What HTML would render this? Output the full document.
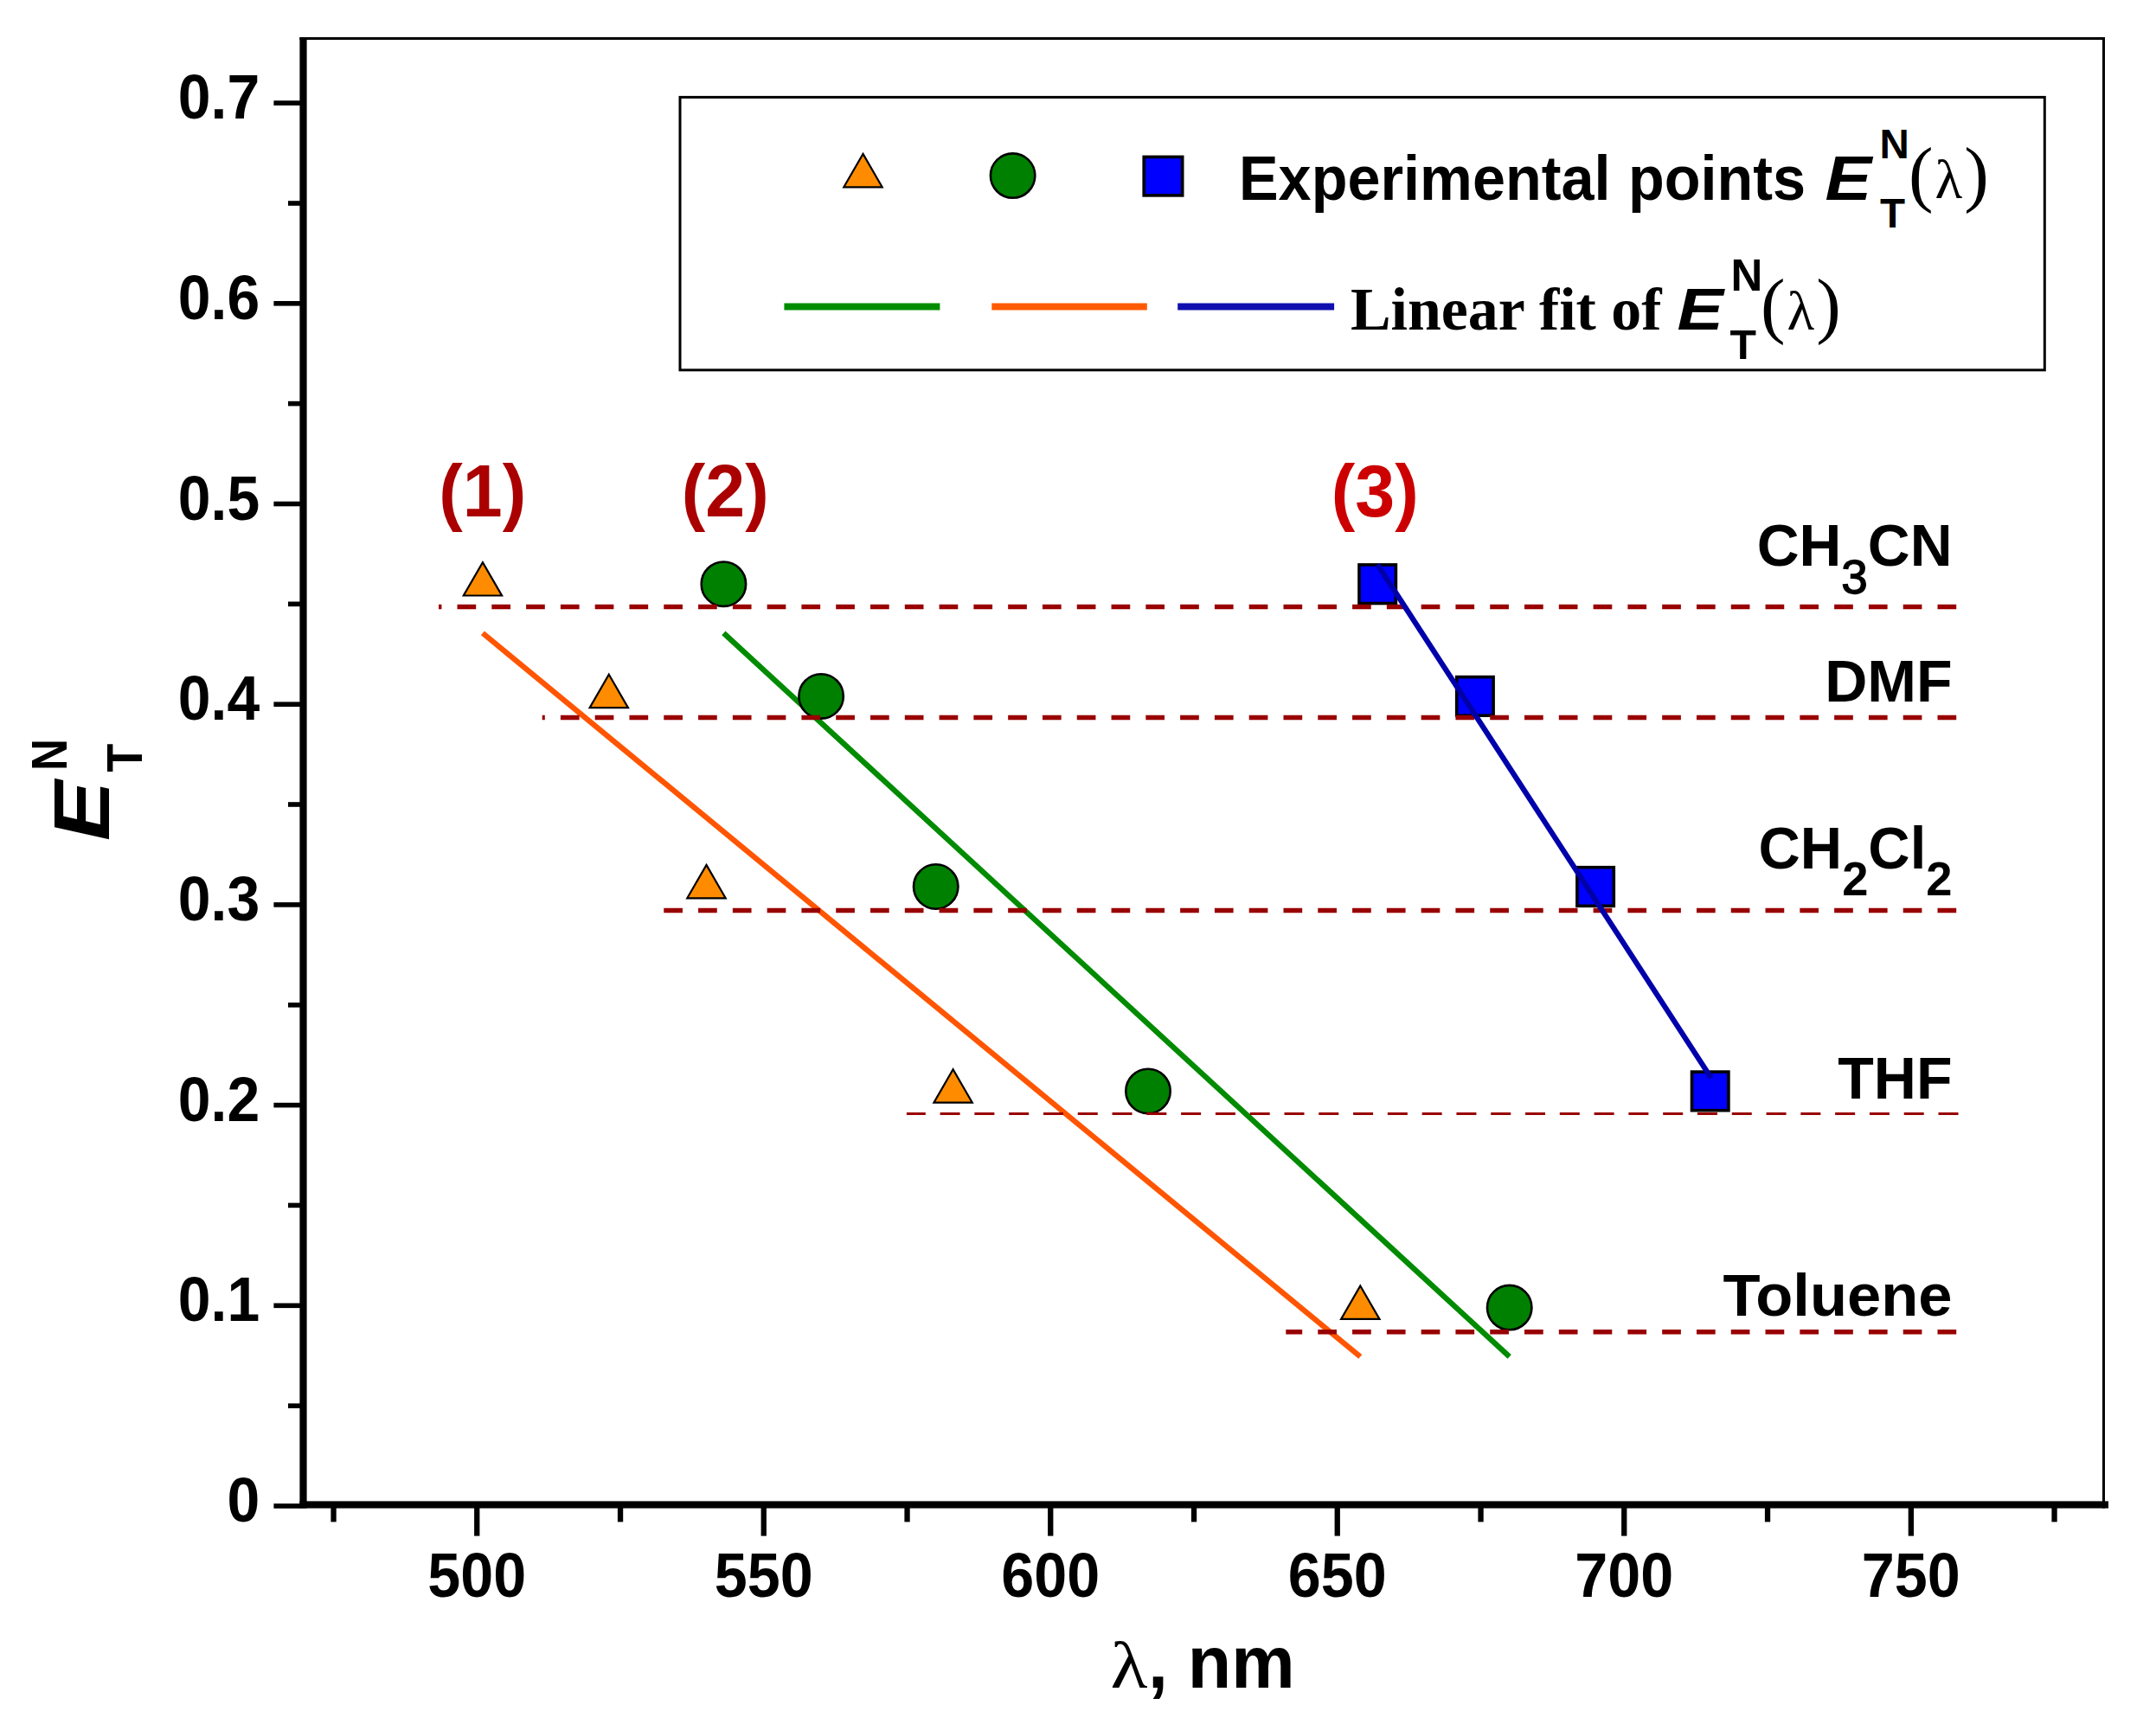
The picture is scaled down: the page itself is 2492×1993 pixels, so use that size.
<!DOCTYPE html>
<html lang="en"><head><meta charset="utf-8"><title>E_T^N vs lambda</title>
<style>
html,body{margin:0;padding:0;background:#fff}
svg{display:block}
.sb{font-family:"Liberation Sans",sans-serif;font-weight:bold}
.sbi{font-family:"Liberation Sans",sans-serif;font-weight:bold;font-style:italic}
.tb{font-family:"Liberation Serif",serif;font-weight:bold}
.tr{font-family:"Liberation Serif",serif;font-weight:normal}
</style></head>
<body>
<svg width="2492" height="1993" viewBox="0 0 2492 1993">
<rect x="0" y="0" width="2492" height="1993" fill="#fff"/>
<g fill="#000">
<rect x="346.4" y="43.0" width="8.2" height="1700.6"/>
<rect x="346.4" y="1735.4" width="2090.6" height="8.2"/>
<rect x="346.4" y="43.0" width="2086.6" height="3.0"/>
<rect x="2430.0" y="43.0" width="3.0" height="1700.6"/>
<rect x="316.4" y="1738.2" width="31.0" height="5.6"/>
<rect x="333.0" y="1622.4" width="14.4" height="5.6"/>
<rect x="316.4" y="1506.5" width="31.0" height="5.6"/>
<rect x="333.0" y="1390.6" width="14.4" height="5.6"/>
<rect x="316.4" y="1274.8" width="31.0" height="5.6"/>
<rect x="333.0" y="1159.0" width="14.4" height="5.6"/>
<rect x="316.4" y="1043.1" width="31.0" height="5.6"/>
<rect x="333.0" y="927.2" width="14.4" height="5.6"/>
<rect x="316.4" y="811.4" width="31.0" height="5.6"/>
<rect x="333.0" y="695.5" width="14.4" height="5.6"/>
<rect x="316.4" y="579.7" width="31.0" height="5.6"/>
<rect x="333.0" y="463.8" width="14.4" height="5.6"/>
<rect x="316.4" y="348.0" width="31.0" height="5.6"/>
<rect x="333.0" y="232.2" width="14.4" height="5.6"/>
<rect x="316.4" y="116.3" width="31.0" height="5.6"/>
<rect x="382.4" y="1742.6" width="6.3" height="16.8"/>
<rect x="548.1" y="1742.6" width="6.3" height="33.0"/>
<rect x="713.9" y="1742.6" width="6.3" height="16.8"/>
<rect x="879.6" y="1742.6" width="6.3" height="33.0"/>
<rect x="1045.4" y="1742.6" width="6.3" height="16.8"/>
<rect x="1211.1" y="1742.6" width="6.3" height="33.0"/>
<rect x="1376.9" y="1742.6" width="6.3" height="16.8"/>
<rect x="1542.6" y="1742.6" width="6.3" height="33.0"/>
<rect x="1708.4" y="1742.6" width="6.3" height="16.8"/>
<rect x="1874.1" y="1742.6" width="6.3" height="33.0"/>
<rect x="2039.9" y="1742.6" width="6.3" height="16.8"/>
<rect x="2205.7" y="1742.6" width="6.3" height="33.0"/>
<rect x="2371.4" y="1742.6" width="6.3" height="16.8"/>
</g>
<text class="sb" transform="translate(300.2 1759.0) scale(0.95 1)" font-size="71.5" text-anchor="end" fill="#000">0</text>
<text class="sb" transform="translate(300.2 1527.3) scale(0.95 1)" font-size="71.5" text-anchor="end" fill="#000">0.1</text>
<text class="sb" transform="translate(300.2 1295.6) scale(0.95 1)" font-size="71.5" text-anchor="end" fill="#000">0.2</text>
<text class="sb" transform="translate(300.2 1063.9) scale(0.95 1)" font-size="71.5" text-anchor="end" fill="#000">0.3</text>
<text class="sb" transform="translate(300.2 832.2) scale(0.95 1)" font-size="71.5" text-anchor="end" fill="#000">0.4</text>
<text class="sb" transform="translate(300.2 600.5) scale(0.95 1)" font-size="71.5" text-anchor="end" fill="#000">0.5</text>
<text class="sb" transform="translate(300.2 368.8) scale(0.95 1)" font-size="71.5" text-anchor="end" fill="#000">0.6</text>
<text class="sb" transform="translate(300.2 137.1) scale(0.95 1)" font-size="71.5" text-anchor="end" fill="#000">0.7</text>
<text class="sb" transform="translate(551.3 1846) scale(0.955 1)" font-size="71.5" text-anchor="middle" fill="#000">500</text>
<text class="sb" transform="translate(882.8 1846) scale(0.955 1)" font-size="71.5" text-anchor="middle" fill="#000">550</text>
<text class="sb" transform="translate(1214.3 1846) scale(0.955 1)" font-size="71.5" text-anchor="middle" fill="#000">600</text>
<text class="sb" transform="translate(1545.8 1846) scale(0.955 1)" font-size="71.5" text-anchor="middle" fill="#000">650</text>
<text class="sb" transform="translate(1877.3 1846) scale(0.955 1)" font-size="71.5" text-anchor="middle" fill="#000">700</text>
<text class="sb" transform="translate(2208.8 1846) scale(0.955 1)" font-size="71.5" text-anchor="middle" fill="#000">750</text>
<text class="tr" transform="translate(1283.5 1950.5) scale(1.165 1)" font-size="76" text-anchor="start" fill="#000">λ</text>
<text class="sb" transform="translate(1327 1950.5) scale(0.96 1)" font-size="86" text-anchor="start" fill="#000">, nm</text>
<g transform="translate(126.2,972) rotate(-90)" fill="#000"><text class="sbi" transform="scale(1.15 1)" x="0" y="0" font-size="90.7">E</text><text class="sb" transform="translate(81 -49.2) scale(0.89 1)" font-size="57.3">N</text><text class="sb" transform="translate(79.5 38.1) scale(0.94 1)" font-size="57.3">T</text></g>
<line x1="557.9" y1="731.9" x2="1572.3" y2="1568.4" stroke="#FF5500" stroke-width="6.3"/>
<line x1="836.4" y1="731.9" x2="1744.7" y2="1568.4" stroke="#008B00" stroke-width="6.3"/>
<rect x="1571.0" y="652.9" width="42.4" height="44.6" fill="#0000FF" stroke="#000" stroke-width="3.6"/>
<rect x="1683.7" y="782.6" width="42.4" height="44.6" fill="#0000FF" stroke="#000" stroke-width="3.6"/>
<rect x="1822.9" y="1002.7" width="42.4" height="44.6" fill="#0000FF" stroke="#000" stroke-width="3.6"/>
<rect x="1955.5" y="1239.1" width="42.4" height="44.6" fill="#0000FF" stroke="#000" stroke-width="3.6"/>
<circle cx="836.4" cy="675.2" r="25.7" fill="#008000" stroke="#000" stroke-width="2.6"/>
<circle cx="949.1" cy="804.9" r="25.7" fill="#008000" stroke="#000" stroke-width="2.6"/>
<circle cx="1081.7" cy="1025.0" r="25.7" fill="#008000" stroke="#000" stroke-width="2.6"/>
<circle cx="1327.0" cy="1261.4" r="25.7" fill="#008000" stroke="#000" stroke-width="2.6"/>
<circle cx="1744.7" cy="1511.6" r="25.7" fill="#008000" stroke="#000" stroke-width="2.6"/>
<polygon points="557.9,650.1 580.1,688.5 535.8,688.5" fill="#FF8C00" stroke="#000" stroke-width="2.2" stroke-linejoin="miter"/>
<polygon points="703.8,779.8 726.0,818.2 681.6,818.2" fill="#FF8C00" stroke="#000" stroke-width="2.2" stroke-linejoin="miter"/>
<polygon points="816.5,999.9 838.7,1038.3 794.3,1038.3" fill="#FF8C00" stroke="#000" stroke-width="2.2" stroke-linejoin="miter"/>
<polygon points="1101.6,1236.3 1123.8,1274.7 1079.4,1274.7" fill="#FF8C00" stroke="#000" stroke-width="2.2" stroke-linejoin="miter"/>
<polygon points="1572.3,1486.5 1594.5,1524.9 1550.1,1524.9" fill="#FF8C00" stroke="#000" stroke-width="2.2" stroke-linejoin="miter"/>
<g stroke="#990000" fill="none" stroke-dasharray="21.7 18.09">
<line x1="2261.2" y1="701.4" x2="507.0" y2="701.4" stroke-width="5.5"/>
<line x1="2261.2" y1="829.5" x2="626.7" y2="829.5" stroke-width="5.5"/>
<line x1="2261.2" y1="1052.4" x2="765.4" y2="1052.4" stroke-width="5.5"/>
<line x1="2263.5" y1="1287.6" x2="1047.9" y2="1287.6" stroke-width="3.0" stroke-dasharray="23 16.79"/>
<line x1="2261.2" y1="1539.7" x2="1486.3" y2="1539.7" stroke-width="5.5"/>
</g>
<line x1="1592.2" y1="652.7" x2="1977.8" y2="1246.1" stroke="#0000AA" stroke-width="6.2"/>
<text class="sb" transform="translate(557.8 597) scale(0.96 1)" font-size="86" text-anchor="middle" fill="#AA0000">(1)</text>
<text class="sb" transform="translate(838.3 597) scale(0.96 1)" font-size="86" text-anchor="middle" fill="#AA0000">(2)</text>
<text class="sb" transform="translate(1589.3 597) scale(0.96 1)" font-size="86" text-anchor="middle" fill="#CC0000">(3)</text>
<text class="sb" transform="translate(2256.5 653.7) scale(0.98 1)" font-size="69" text-anchor="end" fill="#000">CH<tspan font-size="56" dy="32.5" font-weight="normal" stroke="#000" stroke-width="1.3">3</tspan><tspan dy="-32.5">CN</tspan></text>
<text class="sb" transform="translate(2256.5 810.8) scale(0.986 1)" font-size="69" text-anchor="end" fill="#000">DMF</text>
<text class="sb" transform="translate(2256.5 1003.5) scale(0.97 1)" font-size="69" text-anchor="end" fill="#000">CH<tspan font-size="56" dy="31">2</tspan><tspan dy="-31">Cl</tspan><tspan font-size="56" dy="31">2</tspan></text>
<text class="sb" transform="translate(2256.5 1270) scale(0.986 1)" font-size="69" text-anchor="end" fill="#000">THF</text>
<text class="sb" transform="translate(2256.5 1520.6) scale(1.022 1)" font-size="69" text-anchor="end" fill="#000">Toluene</text>
<rect x="786" y="112.4" width="1577.3" height="315.4" fill="#fff" stroke="#000" stroke-width="3"/>
<polygon points="997.5,177.9 1019.7,216.3 975.3,216.3" fill="#FF8C00" stroke="#000" stroke-width="2.2" stroke-linejoin="miter"/>
<circle cx="1170.6" cy="203.1" r="25.7" fill="#008000" stroke="#000" stroke-width="2.6"/>
<rect x="1322.2" y="181.4" width="44.5" height="44.5" fill="#0000FF" stroke="#000" stroke-width="3.6"/>
<line x1="906.4" y1="354.5" x2="1086.4" y2="354.5" stroke="#008C00" stroke-width="8"/>
<line x1="1146.3" y1="354.5" x2="1325.8" y2="354.5" stroke="#FF5A00" stroke-width="8"/>
<line x1="1361.2" y1="354.5" x2="1542.1" y2="354.5" stroke="#1010B0" stroke-width="8"/>
<text class="sb" transform="translate(1432 230.5) scale(0.95 1)" font-size="72" text-anchor="start" fill="#000" word-spacing="1.5">Experimental points</text>
<text class="sbi" transform="translate(2109.5 230.5) scale(1.12 1)" font-size="72" text-anchor="start" fill="#000">E</text>
<text class="sb" transform="translate(2172.5 183.2) scale(1.0 1)" font-size="47.5" text-anchor="start" fill="#000">N</text>
<text class="sb" transform="translate(2173 262.5) scale(1.0 1)" font-size="47.5" text-anchor="start" fill="#000">T</text>
<text class="tr" transform="translate(2206 229) scale(1.02 1)" font-size="84" text-anchor="start" fill="#000">(<tspan font-size="64" dx="2">λ</tspan><tspan dx="2">)</tspan></text>
<text class="tb" transform="translate(1561 380.8) scale(1.005 1)" font-size="69.5" text-anchor="start" fill="#000">Linear fit of</text>
<text class="sbi" transform="translate(1938.5 380.8) scale(1.17 1)" font-size="68.5" text-anchor="start" fill="#000">E</text>
<text class="sb" transform="translate(2000.5 336.3) scale(1.0 1)" font-size="51" text-anchor="start" fill="#000">N</text>
<text class="sb" transform="translate(1999.5 415.1) scale(1.05 1)" font-size="47.5" text-anchor="start" fill="#000">T</text>
<text class="tr" transform="translate(2035 380.5) scale(1.02 1)" font-size="84" text-anchor="start" fill="#000">(<tspan font-size="64" dx="2">λ</tspan><tspan dx="2">)</tspan></text>
</svg>
</body></html>
